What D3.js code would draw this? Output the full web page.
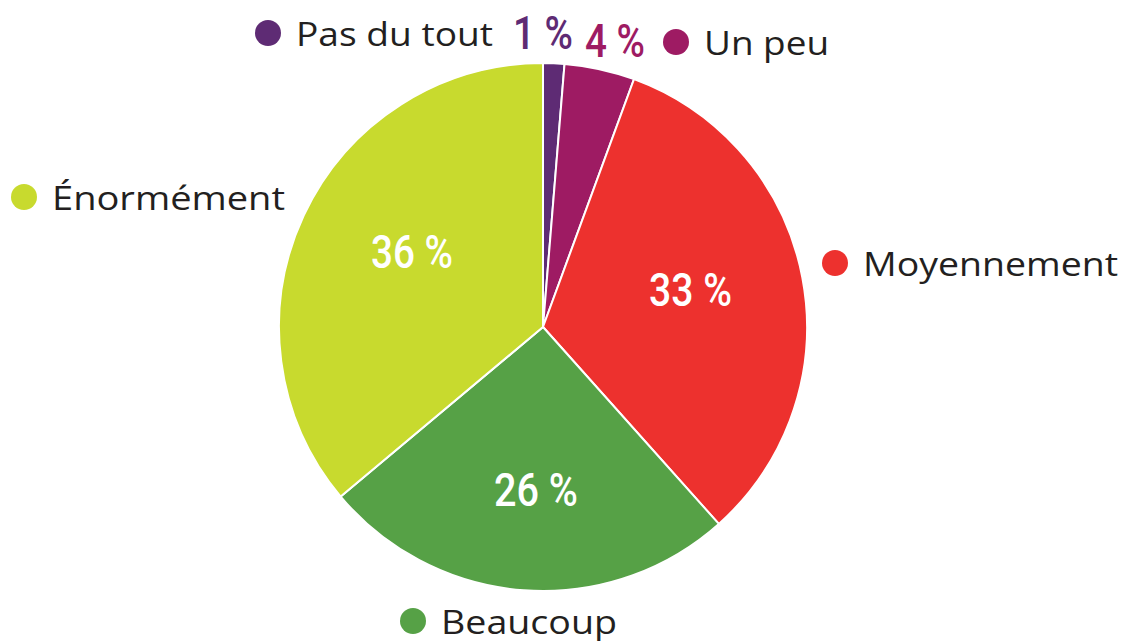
<!DOCTYPE html>
<html>
<head>
<meta charset="utf-8">
<script src="https://cdn.jsdelivr.net/npm/d3@7"></script>
<style>
  body { margin: 0; background: #fff; }
  .lab { font-family: 'Open Sans', sans-serif; fill: #231f20; }
  .pct { font-family: 'Roboto', 'Open Sans', sans-serif; font-weight: 500; }
</style>
</head>
<body>
<div id="chart"></div>
<script>
const categories = ['Pas du tout', 'Un peu', 'Moyennement', 'Beaucoup', 'Énormément']
const values = [1.3, 4.3, 32.8, 25.5, 36.1]
const pctLabels = ['1 %', '4 %', '33 %', '26 %', '36 %']
const colors = ['#5e2b74', '#9e1b63', '#ed312e', '#56a146', '#c8da2e']

const w = 1122
const h = 641
const cx = 543
const cy = 327
const radius = 264

const svg = d3.select('#chart').append('svg')
  .attr('width', w)
  .attr('height', h)

const g = svg.append('g').attr('transform', 'translate(' + cx + ',' + cy + ')')

const pie = d3.pie().sort(null).value(d => d)
const arcs = pie(values)
const arc = d3.arc().innerRadius(0).outerRadius(radius)

g.selectAll('path.slice')
  .data(arcs)
  .enter().append('path')
  .attr('class', 'slice')
  .attr('d', arc)
  .attr('fill', (d, i) => colors[i])
  .attr('stroke', '#fff')
  .attr('stroke-width', 2)

// percent labels: inside for big slices, above the pie for small ones
// (condensed look faked with textLength)
const pctPos = [
  { x: 513, y: 49, len: 60, fill: colors[0] },
  { x: 585, y: 57, len: 60, fill: colors[1] },
  { x: 649, y: 306, len: 83, fill: '#fff' },
  { x: 494, y: 506, len: 84, fill: '#fff' },
  { x: 371, y: 268, len: 82, fill: '#fff' }
]
svg.selectAll('text.pct')
  .data(pctLabels)
  .enter().append('text')
  .attr('class', 'pct')
  .attr('x', (d, i) => pctPos[i].x)
  .attr('y', (d, i) => pctPos[i].y)
  .attr('font-size', 46)
  .attr('textLength', (d, i) => pctPos[i].len)
  .attr('lengthAdjust', 'spacingAndGlyphs')
  .attr('fill', (d, i) => pctPos[i].fill)
  .text(d => d)

// category legends next to each slice
const legendPos = [
  { x: 268, y: 33, len: 197 },
  { x: 676, y: 42, len: 125 },
  { x: 835, y: 263, len: 255 },
  { x: 413, y: 621, len: 176 },
  { x: 24, y: 197, len: 233 }
]
const legend = svg.selectAll('g.legend')
  .data(categories)
  .enter().append('g')
  .attr('class', 'legend')
  .attr('transform', (d, i) => 'translate(' + legendPos[i].x + ',' + legendPos[i].y + ')')

legend.append('circle')
  .attr('r', 13)
  .attr('fill', (d, i) => colors[i])

legend.append('text')
  .attr('class', 'lab')
  .attr('x', 28)
  .attr('y', 13)
  .attr('font-size', 33)
  .attr('textLength', (d, i) => legendPos[i].len)
  .attr('lengthAdjust', 'spacingAndGlyphs')
  .text(d => d)
</script>
</body>
</html>
